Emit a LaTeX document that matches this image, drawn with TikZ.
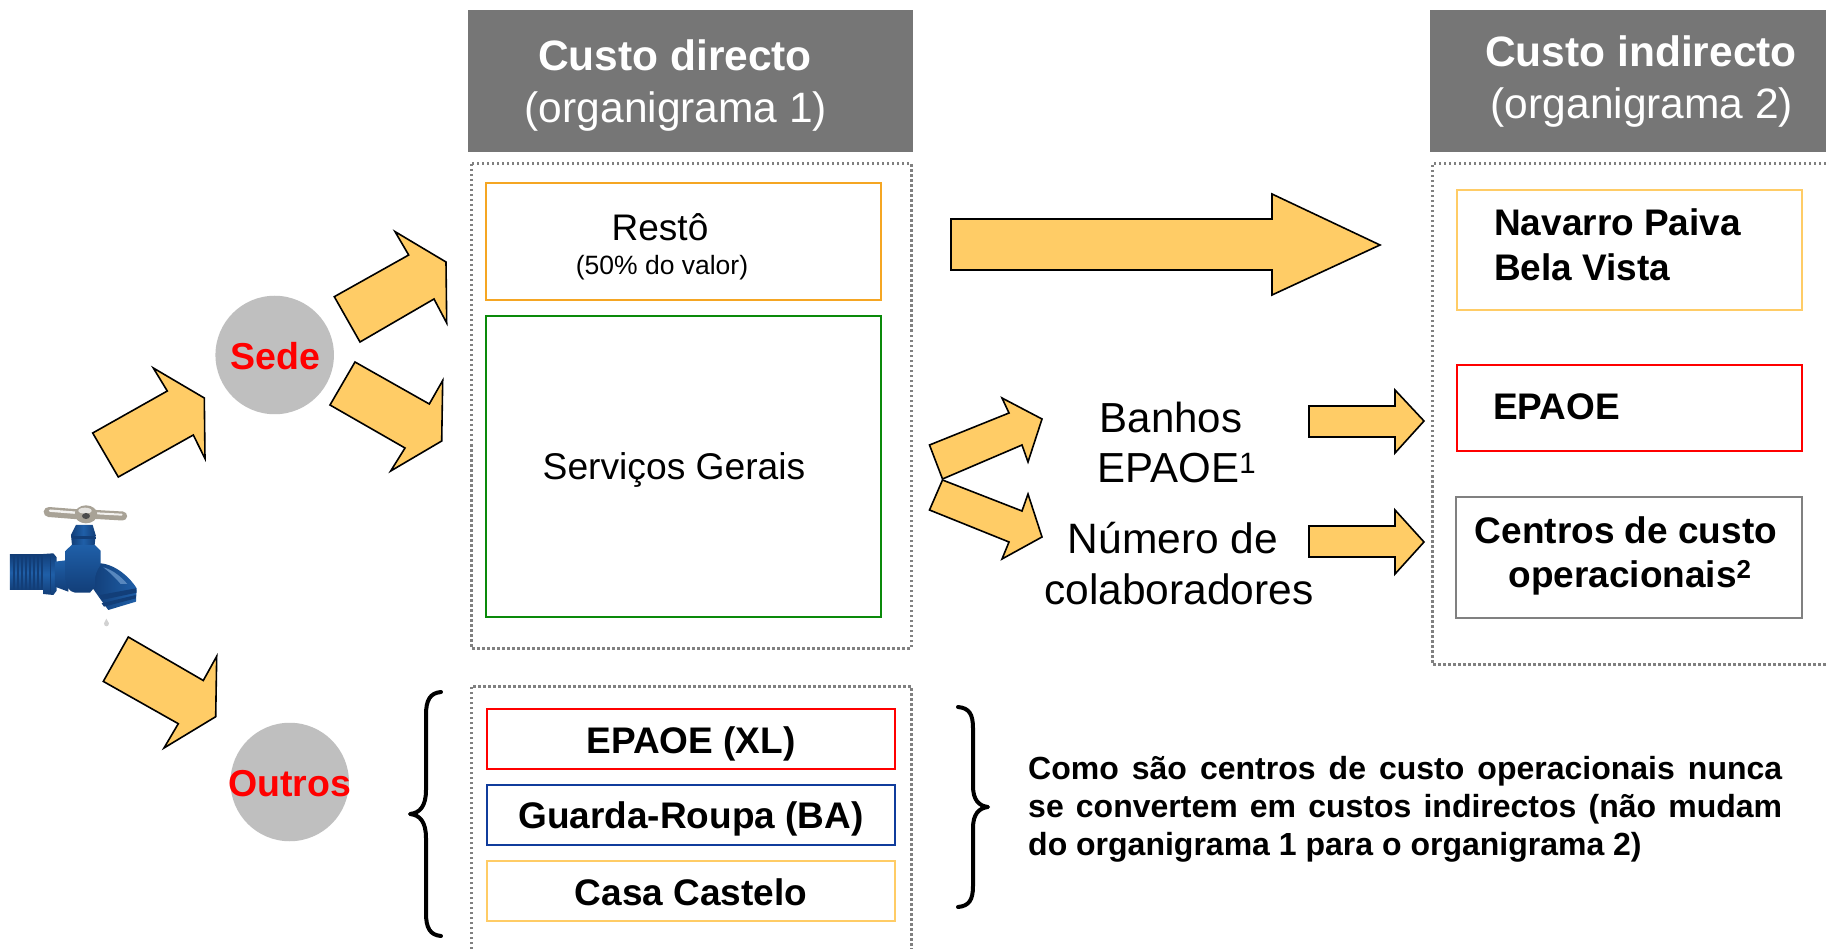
\documentclass[tikz,border=0pt]{standalone}
\usepackage{fontspec}
\setmainfont{Liberation Sans}
\definecolor{hdr}{HTML}{767676}
\definecolor{arrowfill}{HTML}{FFCC66}
\definecolor{dotgray}{HTML}{808080}
\definecolor{disc}{HTML}{BFBFBF}
\definecolor{boxorange}{HTML}{F5A623}
\definecolor{boxgreen}{HTML}{0A8A0A}
\definecolor{boxyellow}{HTML}{FFCC66}
\definecolor{boxblue}{HTML}{103C9C}
\definecolor{boxgray}{HTML}{808080}
\definecolor{tapblue}{HTML}{1F5FA8}
\definecolor{tapdark}{HTML}{123E78}
\definecolor{tapsilver}{HTML}{A8A296}
\newcommand{\fs}[1]{\fontsize{#1}{#1}\selectfont}
\tikzset{
  x=1pt,y=-1pt,
  blockarrow/.style={draw=black,line width=1.6pt,fill=arrowfill,line join=miter},
  header/.style={fill=hdr,draw=none},
  dotbox/.style={draw=dotgray,line width=3pt,dash pattern=on 2.5pt off 2.5pt},
  plainbox/.style={line width=2pt,fill=white},
  hdrtext/.style={text=white,font=\fs{42},inner sep=0pt,anchor=center},
  lab/.style={inner sep=0pt,anchor=center,font=\fs{42}},
  boldlab/.style={inner sep=0pt,anchor=center,font=\bfseries\fs{37}},
  leftlab/.style={inner sep=0pt,anchor=west,font=\bfseries\fs{37}},
  brace/.style={draw=black,line width=4pt,line cap=round,line join=round,fill=none},
  discnode/.style={circle,fill=disc,inner sep=0pt,minimum size=118.5pt}
}
\begin{document}
\begin{tikzpicture}
\useasboundingbox (0,0) rectangle (1826,949);
\fill[white] (0,0) rectangle (1826,949);
% headers
\fill[header] (468,10) rectangle (913,152);
\fill[header] (1430,10) rectangle (1826,152);
\node[hdrtext,font=\bfseries\fs{42.5}] (h1a) at (675,55) {Custo directo};
\node[hdrtext,font=\fs{42.5}] (h1b) at (676,111.5) {(organigrama 1)};
\node[hdrtext,font=\bfseries\fs{42.5}] (h2a) at (1641,51.5) {Custo indirecto};
\node[hdrtext,font=\fs{42.5}] (h2b) at (1642,107.5) {(organigrama 2)};
% dotted frames
\draw[dotbox] (471,164) rectangle (911,648);
\draw[dotbox] (471,949) -- (471,686) -- (911,686) -- (911,949);
\draw[dotbox] (1826,164) -- (1432,164) -- (1432,664) -- (1826,664);
% boxes col 1
\draw[plainbox,draw=boxorange] (486,183) rectangle (881,300);
\draw[plainbox,draw=boxgreen] (486,316) rectangle (881,617);
\node[lab,font=\fs{37}] (resto) at (660,227) {Restô};
\node[lab,font=\fs{26.5}] (resto2) at (662,268) {(50\% do valor)};
\node[lab,font=\fs{37.2}] (servicos) at (674,469.5) {Serviços Gerais};
% lower boxes
\draw[plainbox,draw=red] (486.5,709) rectangle (895,769);
\draw[plainbox,draw=boxblue] (486.5,785) rectangle (895,845);
\draw[plainbox,draw=boxyellow] (486.5,861) rectangle (895,921);
\node[boldlab] (xl) at (691,743.5) {EPAOE (XL)};
\node[boldlab] (ba) at (691,818.5) {Guarda-Roupa (BA)};
\node[boldlab] (cc) at (691,892) {Casa Castelo};
% right boxes
\draw[plainbox,draw=boxyellow] (1457,190) rectangle (1802,310);
\draw[plainbox,draw=red] (1457,365) rectangle (1802,451);
\draw[plainbox,draw=boxgray] (1456,497) rectangle (1802,618);
\node[leftlab] (nav) at (1494,222) {Navarro Paiva};
\node[leftlab] (bela) at (1494,267) {Bela Vista};
\node[leftlab] (ep) at (1493,407) {EPAOE};
\node[boldlab] (cen) at (1626,530) {Centros de custo};
\node[boldlab] (ope) at (1630,577.5) {operacionais\textsuperscript{2}};
% middle labels
\node[lab] (ban) at (1171,417) {Banhos};
\node[lab] (ep1) at (1177,468) {EPAOE\textsuperscript{1}};
\node[lab,font=\fs{42.5}] (num) at (1173,538) {Número de};
\node[lab,font=\fs{42.5}] (col) at (1179,589) {colaboradores};
% block arrows
\draw[blockarrow] (951,219) -- (1272,219) -- (1272,194) -- (1380,245) -- (1272,295) -- (1272,270) -- (951,270) -- cycle;
\draw[blockarrow] (1309,406) -- (1395,406) -- (1395,390) -- (1424,421) -- (1395,453) -- (1395,437) -- (1309,437) -- cycle;
\draw[blockarrow] (1309,526) -- (1395,526) -- (1395,510) -- (1424,542) -- (1395,574) -- (1395,557) -- (1309,557) -- cycle;
\draw[blockarrow] (929.5,445) -- (942.5,479) -- (1022,445) -- (1028,462) -- (1042,419) -- (1002,398) -- (1009,413) -- cycle;
\draw[blockarrow] (942.5,480) -- (929.5,510) -- (1009,542) -- (1002,559) -- (1042,537) -- (1028,494) -- (1022,511) -- cycle;
\draw[blockarrow] (92.7,433) -- (118.3,477) -- (193.3,435) -- (205,458.6) -- (204.3,398) -- (153.3,368) -- (167.3,391) -- cycle;
\draw[blockarrow] (334.3,296.7) -- (360,342) -- (434,299) -- (446.7,323) -- (446,262) -- (395,231.6) -- (408.7,255) -- cycle;
\draw[blockarrow] (330,405) -- (355,362) -- (429.3,404) -- (442.7,380.5) -- (441.7,441) -- (390.7,471) -- (405,448) -- cycle;
\draw[blockarrow] (103.3,681.4) -- (128.3,637) -- (203.3,680.5) -- (216.7,656.3) -- (215.7,716.7) -- (164,748) -- (178.3,723.7) -- cycle;
% discs
\node[discnode] (sede) at (274.7,355) {};
\node[discnode] (outros) at (289.7,782) {};
\node[inner sep=0pt,text=red,font=\bfseries\fs{37.5}] (sedet) at (275.5,356) {Sede};
\node[inner sep=0pt,text=red,font=\bfseries\fs{37.5}] (outrost) at (289.7,783.5) {Outros};
% braces
\draw[brace] (441,692) .. controls (430,693) and (426,700) .. (426,715) -- (426,790) .. controls (426,806) and (420,813) .. (410,814) .. controls (420,815) and (426,822) .. (426,838) -- (426,913) .. controls (426,928) and (430,935) .. (441,936);
\draw[brace] (958,707) .. controls (969,708) and (973,714) .. (973,728) -- (973,786) .. controls (973,800) and (979,806) .. (988,807) .. controls (979,808) and (973,814) .. (973,828) -- (973,886) .. controls (973,900) and (969,906) .. (958,907);
% note
\node[anchor=north west,inner sep=0pt,text width=754pt,align=justify,font=\bfseries\fontsize{32}{38}\selectfont] (note) at (1028,756.5) {Como são centros de custo operacionais nunca\linebreak se convertem em custos indirectos (não mudam\linebreak do organigrama 1 para o organigrama 2)};
% tap
\begin{scope}[shift={(0,480)},x=.3333pt,y=-.3333pt]
% pipe
\shade[top color=tapdark,bottom color=tapdark,middle color=tapblue] (30,225) rectangle (135,330);
\foreach \k in {42,54,66,78,90,102,114,126}{\draw[tapdark,line width=1.3pt] (\k,226) -- (\k,329);}
\shade[top color=tapdark,bottom color=tapdark,middle color=tapblue] (130,222) -- (160,220) -- (170,232) -- (170,332) -- (160,345) -- (130,342) -- cycle;
\draw[tapdark,line width=.8pt] (150,222) -- (150,343);
\shade[top color=tapblue,bottom color=tapdark] (165,245) -- (205,240) -- (205,335) -- (165,320) -- cycle;
% spout
\shade[left color=tapdark,right color=tapblue] (285,250) .. controls (335,245) and (385,285) .. (410,325) -- (408,365) -- (325,390) -- (303,360) -- (275,320) -- cycle;
\fill[tapdark] (300,345) -- (408,325) -- (410,338) -- (305,360) -- cycle;
\fill[tapdark] (305,370) -- (407,345) -- (408,355) -- (312,380) -- cycle;
\fill[tapblue!75!white] (310,262) .. controls (340,270) and (365,292) .. (382,312) -- (362,312) .. controls (345,292) and (328,276) .. (310,262) -- cycle;
% body
\shade[top color=tapblue,bottom color=tapdark] (197,212) -- (215,195) -- (285,195) -- (302,212) -- (302,255) .. controls (290,270) and (282,290) .. (285,320) -- (270,338) -- (225,338) .. controls (208,335) and (197,320) .. (197,300) -- cycle;
% neck
\shade[left color=tapdark,right color=tapdark,middle color=tapblue] (228,135) -- (278,135) -- (287,165) -- (284,195) -- (216,195) -- (213,165) -- cycle;
\fill[tapdark] (215,168) rectangle (285,178);
% handle
\draw[tapsilver,line width=10pt,line cap=round] (146,96) -- (235,103);
\draw[tapsilver,line width=9pt,line cap=round] (280,103) -- (368,108);
\draw[white!85!tapsilver,line width=2.4pt,line cap=round] (150,92) -- (225,98);
\draw[white!85!tapsilver,line width=2pt,line cap=round] (290,100) -- (365,104);
\fill[tapsilver] (258,103) ellipse [x radius=34,y radius=27];
\fill[white!70!tapsilver] (255,92) ellipse [x radius=20,y radius=9];
\fill[gray!60!black] (258,108) ellipse [x radius=12,y radius=9];
% droplet
\fill[gray!35] (319,416) -- (327,430) .. controls (327,442) and (312,442) .. (312,430) -- cycle;
\end{scope}
\end{tikzpicture}
\end{document}
